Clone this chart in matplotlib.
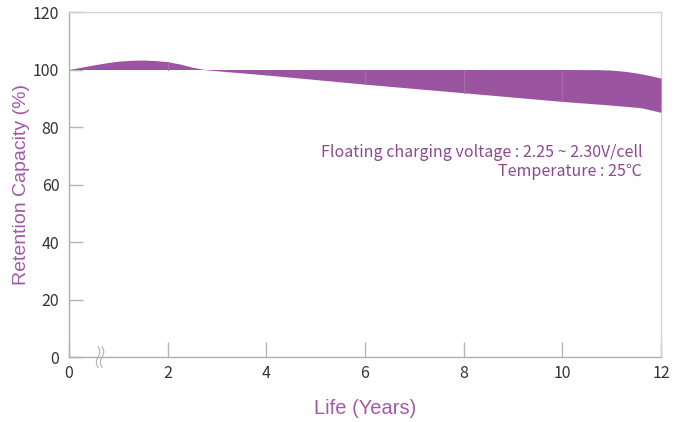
import numpy as np
import matplotlib
matplotlib.use("Agg")
import matplotlib.pyplot as plt

# ---- data ----
years_upper = [0, 0.25, 0.5, 0.75, 1.0, 1.25, 1.5, 1.75, 2.0, 2.25, 2.5, 2.75,
               4, 6, 8, 10, 10.75, 11.0, 11.25, 11.5, 11.75, 12]
capacity_upper = [100, 100.8, 101.6, 102.3, 102.9, 103.2, 103.3, 103.1, 102.7, 101.9, 100.8, 100.0,
                  100, 100, 100, 100, 99.95, 99.8, 99.4, 98.8, 98.0, 97.0]
years_lower = [0, 2.7, 4, 6, 8, 10, 11, 11.6, 12]
capacity_lower = [100, 100, 98.1, 94.9, 91.9, 88.9, 87.6, 86.7, 85.1]

x_ticks = [0, 2, 4, 6, 8, 10, 12]
y_ticks = [0, 20, 40, 60, 80, 100, 120]
note_lines = ["Floating charging voltage : 2.25 ~ 2.30V/cell", "Temperature : 25\u2103"]

fill_color = "#9b55a0"
label_color = "#a05aa8"
note_color = "#8a4a90"

fig = plt.figure(figsize=(6.84, 4.22), dpi=100)
ax = fig.add_axes([69 / 684, 1 - 357 / 422, (661 - 69) / 684, (357 - 12) / 422])

# common grid for the band
xs = np.union1d(years_upper, years_lower)
up = np.interp(xs, years_upper, capacity_upper)
lo = np.interp(xs, years_lower, capacity_lower)
ax.fill_between(xs, lo, up, color=fill_color, linewidth=0, zorder=3)

# faint seams in the band at tick positions
for t in x_ticks[1:-1]:
    u = np.interp(t, years_upper, capacity_upper)
    l = np.interp(t, years_lower, capacity_lower)
    if u - l > 0.3:
        ax.plot([t, t], [l, u], color="#a86cad", lw=0.7, zorder=4)

ax.set_xlim(0, 12)
ax.set_ylim(0, 120)
ax.set_xticks(x_ticks)
ax.set_yticks(y_ticks)

tick_font = ["Noto Sans CJK KR", "DejaVu Sans"]
ax.set_xticklabels([str(v) for v in x_ticks], family=tick_font, fontsize=11.5, color="#333333")
ax.set_yticklabels([str(v) for v in y_ticks], family=tick_font, fontsize=11.5, color="#333333")
ax.tick_params(axis="x", direction="in", length=11, width=1, color="#b5b5b5", pad=6)
ax.tick_params(axis="y", direction="in", length=10, width=1, color="#b5b5b5", pad=7)

for side in ["left", "bottom"]:
    ax.spines[side].set_color("#b0b0b0")
    ax.spines[side].set_linewidth(1.0)
for side in ["top", "right"]:
    ax.spines[side].set_color("#d4d4d4")
    ax.spines[side].set_linewidth(1.0)

ax.set_xlabel("Life (Years)", family=["Liberation Sans", "DejaVu Sans"], fontsize=14.5,
              color=label_color, labelpad=12)
ax.set_ylabel("Retention Capacity (%)", family=["Liberation Sans", "DejaVu Sans"], fontsize=14,
              color=label_color, labelpad=2)

# notes
note_font = ["Noto Sans CJK KR", "DejaVu Sans"]
ax.text(11.62, 71.0, note_lines[0], ha="right", va="center", family=note_font,
        fontsize=11.5, color=note_color)
ax.text(11.62, 64.4, note_lines[1], ha="right", va="center", family=note_font,
        fontsize=11.5, color=note_color)

# axis break marker on x axis
tt = np.linspace(-1, 1, 60)
for dx in (-0.04, 0.04):
    bx = 0.63 + dx + 0.035 * np.sin(tt * np.pi)
    by = tt * 3.6
    ax.plot(bx, by, color="#b0b0b0", lw=0.8, clip_on=False, zorder=5)

fig.savefig("out.png", dpi=100, facecolor="white")
